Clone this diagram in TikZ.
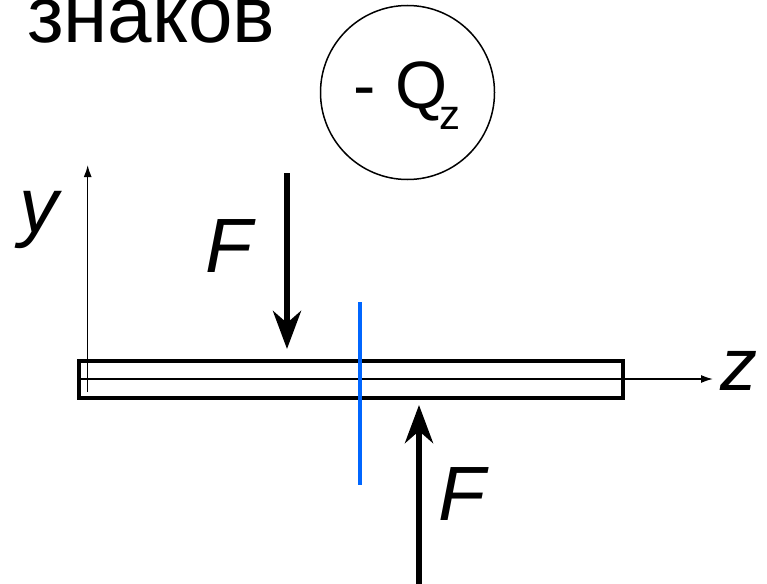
\documentclass[tikz,border=0pt]{standalone}
\usepackage{fontspec}
\setmainfont{Liberation Sans}
\usetikzlibrary{arrows.meta}
\definecolor{cutblue}{HTML}{0066FF}
\tikzset{
  txt/.style={anchor=base west, inner sep=0pt, outer sep=0pt},
  axis/.style={line width=1.5pt, -{Latex[length=12pt,width=8pt]}},
  force/.style={line width=6pt, -{Stealth[length=38pt,width=28pt,inset=12pt]}},
}
\begin{document}
\begin{tikzpicture}[x=1pt,y=-1pt]
\useasboundingbox (0,0) rectangle (767,583);
% title
\node[txt, font=\fontsize{80}{90}\selectfont] (title) at (27,43) {знаков};
% sign circle
\node[circle, draw, line width=1.5pt, minimum size=174pt, inner sep=0pt] (circ) at (407.5,92.5) {};
\node[txt, font=\fontsize{67}{70}\selectfont] (q) at (353,108) {-\hspace{0.3em}Q};
\node[txt, font=\fontsize{42}{46}\selectfont] (qz) at (439,129) {z};
% axes
\coordinate (yb) at (87.7,392);
\coordinate (yt) at (87.7,165);
\draw[axis] (yb) -- (yt);
\node[txt, font=\fontsize{78}{80}\selectfont\itshape] (ylab) at (19,232) {y};
\coordinate (zb) at (77,379);
\coordinate (zt) at (713,379);
% beam
\draw[line width=4pt] (79,361) rectangle (623,398);
\draw[axis] (zb) -- (zt);
\node[txt, font=\fontsize{74}{80}\selectfont\itshape] (zlab) at (720,390) {z};
% cut line
\coordinate (cb) at (360,302);
\coordinate (ce) at (360,485);
\draw[cutblue, line width=4pt] (cb) -- (ce);
% forces
\coordinate (f1s) at (287,173);
\coordinate (f1e) at (287,349);
\draw[force] (f1s) -- (f1e);
\node[txt, font=\fontsize{77}{80}\selectfont\itshape] (f1lab) at (205,272) {F};
\coordinate (f2s) at (419,585);
\coordinate (f2e) at (419,405);
\draw[force] (f2s) -- (f2e);
\node[txt, font=\fontsize{77}{80}\selectfont\itshape] (f2lab) at (438,520) {F};
\end{tikzpicture}
\end{document}
